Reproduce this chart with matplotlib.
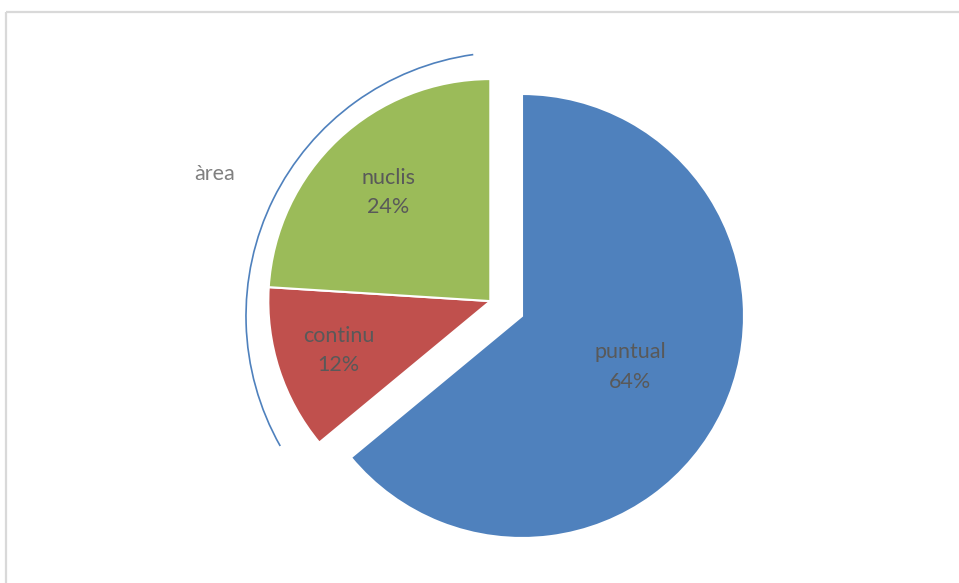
import numpy as np
import matplotlib.pyplot as plt
from matplotlib.patches import Arc

# share of each type, in percent
labels = ['puntual', 'continu', 'nuclis']
shares = [64, 12, 24]
colors = ['#4F81BD', '#C0504D', '#9BBB59']

# slices pulled out together and bracketed under one name
group_name = 'àrea'
group = ['continu', 'nuclis']

plt.rcParams['font.family'] = ['Lato', 'DejaVu Sans']

fig = plt.figure(figsize=(9.59, 5.83), dpi=100)
ax = fig.add_axes([0, 0, 1, 1])

centre = (522, 267)
radius = 222
wedges, _ = ax.pie(shares, colors=colors, startangle=90, counterclock=False,
                   center=centre, radius=radius,
                   wedgeprops=dict(edgecolor='white', linewidth=1.5))

ax.set_xlim(0, 959)
ax.set_ylim(0, 583)
ax.set_aspect('equal')
ax.axis('off')

# move the grouped slices out along the middle of the group
idx = [labels.index(g) for g in group]
lo = min(wedges[i].theta1 for i in idx)
hi = max(wedges[i].theta2 for i in idx)
mid = np.radians((lo + hi) / 2)
shift = 35
dx, dy = shift * np.cos(mid), shift * np.sin(mid)
for i in idx:
    wedges[i].set_center((centre[0] + dx, centre[1] + dy))

# labels inside the slices
label_r = [0.54, 0.72, 0.67]
for w, name, pct, f in zip(wedges, labels, shares, label_r):
    a = np.radians((w.theta1 + w.theta2) / 2)
    cx, cy = w.center
    ax.text(cx + f * radius * np.cos(a), cy + f * radius * np.sin(a),
            f'{name}\n{pct}%', ha='center', va='center', color='#595959',
            fontsize=15.5, linespacing=1.6)

# bracket arc around the group
ax.add_patch(Arc((510, 267), 528, 528, theta1=98, theta2=209.5,
                 color='#4F81BD', lw=1.2))
ax.text(215, 409, group_name, ha='center', va='center', color='#808080',
        fontsize=15.5)

# chart border
ax.plot([6, 959], [571, 571], color='#D9D9D9', lw=1.6, solid_capstyle='butt')
ax.plot([6, 6], [0, 571], color='#D9D9D9', lw=1.6, solid_capstyle='butt')

fig.savefig('out.png', dpi=100)
